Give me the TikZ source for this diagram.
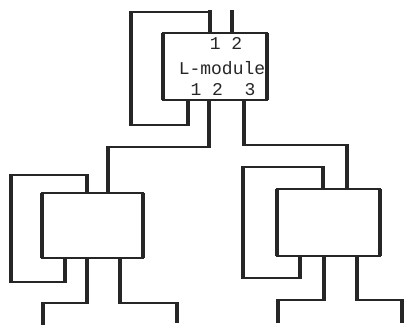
\documentclass[tikz,border=0pt]{standalone}
\usepackage{fontspec}
\setmonofont{Liberation Mono}
\begin{document}
\begin{tikzpicture}[x=1pt,y=-1pt,
  wire/.style={line width=2.2pt, draw=black!85, line join=miter},
  vwire/.style={line width=3.6pt, draw=black!85},
  module/.style={draw=black!85, line width=2.2pt, fill=white, inner sep=0pt, outer sep=0pt},
  lab/.style={font=\ttfamily\fontsize{18}{18}\selectfont, inner sep=0pt, text=black!85}]
\useasboundingbox (0,0) rectangle (408,327);
% modules
\node[module, minimum width=104pt, minimum height=67pt] (L) at (215,66.5) {};
\node[module, minimum width=101pt, minimum height=65pt] (A) at (92.5,225.5) {};
\node[module, minimum width=103pt, minimum height=67pt] (B) at (328.5,222.5) {};
% free ends
\coordinate (Li1) at (210,10);
\coordinate (Li2) at (232,10);
\coordinate (Aout2) at (43,325);
\coordinate (Aout3) at (177,323);
\coordinate (Bout2) at (278,323);
\coordinate (Bout3) at (402,323);
% top module wires
\draw[vwire] (Li1) -- (L.north -| Li1);
\draw[vwire] (Li2) -- (L.north -| Li2);
\draw[wire] (188,100) -- (188,125) -- (131,125) -- (131,12) -- (210,12);
\draw[wire] (209,100) -- (209,147) -- (108,147) -- (108,193);
\draw[wire] (244,100) -- (244,145) -- (347,145) -- (347,189);
% left module wires
\draw[wire] (65,258) -- (65,282) -- (11,282) -- (11,175) -- (87,175) -- (87,193);
\draw[wire] (87,258) -- (87,303) -- (43,303) -- (Aout2);
\draw[wire] (120,258) -- (120,303) -- (177,303) -- (Aout3);
% right module wires
\draw[wire] (300,256) -- (300,278) -- (243,278) -- (243,167) -- (323,167) -- (323,189);
\draw[wire] (324,256) -- (324,300) -- (278,300) -- (Bout2);
\draw[wire] (357,256) -- (357,300) -- (402,300) -- (Bout3);
% heavier vertical strokes
\foreach \x/\a/\b in {188/100/126, 131/11/126, 209/100/148, 108/146/193, 244/100/146, 347/144/189,
  65/258/283, 11/174/283, 87/174/193, 87/258/304, 43/302/325, 120/258/304, 177/302/323,
  300/256/279, 243/166/279, 323/166/189, 324/256/301, 278/299/323, 357/256/301, 402/299/323}
  \draw[vwire] (\x,\a) -- (\x,\b);
% redraw modules on top
\node[module, minimum width=104pt, minimum height=67pt] at (L) {};
\node[module, minimum width=101pt, minimum height=65pt] at (A) {};
\node[module, minimum width=103pt, minimum height=67pt] at (B) {};
\foreach \n in {L,A,B}{
  \draw[vwire] (\n.north west) -- (\n.south west);
  \draw[vwire] (\n.north east) -- (\n.south east);
}
% labels
\node[lab] (tin) at (226,43) {1 2};
\node[lab] (tname) at (222,68) {L-module};
\node[lab] (tout) at (223,90) {1 2\ \ 3};
\end{tikzpicture}
\end{document}
